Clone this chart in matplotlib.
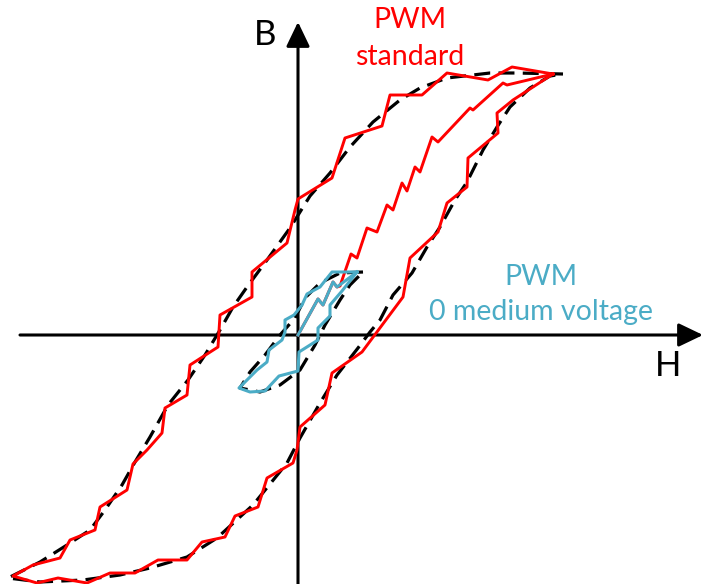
import matplotlib
matplotlib.use("Agg")
import matplotlib.pyplot as plt

# B-H plane, origin at the axis crossing (arbitrary units)
# smooth reference loop (black dashed), upper branch then lower branch
REF_H = [265, 219, 192, 149, 122, 102, 75, 52, 32, 12, -8, -31, -51, -65, -78, -93, -110, -130,
         -148, -163, -176, -193, -208, -231, -258, -290,
         -258, -215, -178, -148, -111, -81, -45, -11, 2, 22, 39, 60, 72, 82, 95, 114, 129, 142,
         157, 169, 185, 199, 212, 232, 252, 265]
REF_B = [261, 262, 262, 257, 247, 235, 213, 188, 162, 139, 107, 75, 48, 28, 5, -20, -45, -70,
         -102, -127, -150, -175, -195, -210, -227, -243,
         -247, -245, -240, -233, -222, -203, -170, -128, -103, -68, -40, -13, 3, 15, 40, 62, 88, 108,
         135, 153, 185, 208, 228, 247, 259, 261]

# PWM standard loop (red)
STD_H = [255, 214, 190, 149, 124, 92, 84, 47, 34, 0, -3, -11, -46, -46, -78, -80, -108, -111,
         -133, -136, -151, -165, -171, -198, -203, -228, -238, -265, -285,
         -261, -240, -211, -188, -163, -140, -111, -96, -73, -63, -40, -31, -5, -1, 2, 27, 34,
         64, 105, 112, 140, 149, 169, 170, 200, 199, 215, 235, 255]
STD_B = [261, 268, 255, 262, 240, 240, 209, 197, 157, 136, 125, 92, 63, 38, 20, -12, -30, -60,
         -73, -98, -115, -129, -155, -172, -195, -205, -223, -230, -241,
         -248, -243, -248, -238, -238, -225, -225, -207, -202, -181, -172, -143, -128, -115, -92, -70, -38,
         -17, 38, 77, 103, 132, 148, 177, 202, 222, 235, 248, 261]

# initial magnetisation, PWM standard (red)
INIT_H = [0, 20, 25, 35, 39, 42, 53, 59, 69, 79, 89, 95, 104, 109, 117, 122, 134, 140,
          172, 175, 205, 209, 255]
INIT_B = [0, 36, 30, 53, 48, 49, 81, 77, 107, 103, 130, 125, 152, 144, 168, 163, 198, 193,
          227, 225, 252, 250, 261]

# small reference loop (black dashed)
SREF_H = [65, 42, 22, 7, -3, -18, -33, -48, -58, -38, -18, 2, 17, 27, 42, 52, 65]
SREF_B = [63, 62, 52, 37, 17, 0, -20, -37, -53, -57, -50, -35, -10, 10, 35, 50, 63]

# PWM 0 medium voltage loop (blue)
MED_H = [59, 34, 22, 9, 4, -4, -13, -13, -16, -29, -31, -41, -59,
         -48, -33, -19, 0, 1, 20, 20, 32, 32, 44, 59]
MED_B = [63, 63, 48, 41, 30, 20, 15, 3, -5, -15, -27, -35, -53,
         -57, -56, -41, -36, -17, -5, 7, 19, 30, 44, 63]
MED_INIT_H = [0, 20, 25, 35, 39, 59]
MED_INIT_B = [0, 36, 30, 53, 48, 63]

RED = "#ff0000"
BLUE = "#4bacc6"

plt.rcParams["font.family"] = ["Lato", "DejaVu Sans"]

fig = plt.figure(figsize=(7.03, 5.84), dpi=100)
ax = fig.add_axes([0, 0, 1, 1])
ax.set_xlim(-298, 405)
ax.set_ylim(-249, 335)
ax.axis("off")

# axes with arrow heads
arrow = dict(arrowstyle="-|>,head_length=1.5,head_width=0.72", lw=2.2, color="black",
             shrinkA=0, shrinkB=0, mutation_scale=10)
ax.annotate("", xy=(405, 0), xytext=(-278, 0), arrowprops=arrow, zorder=1)
ax.annotate("", xy=(0, 313), xytext=(0, -252), arrowprops=arrow, zorder=1)
ax.text(-33, 300, "B", fontsize=25, ha="center", va="center")
ax.text(370, -31, "H", fontsize=25, ha="center", va="center")

ax.plot(REF_H, REF_B, color="black", lw=2.3, dashes=(5, 2.6), zorder=2)
ax.plot(SREF_H, SREF_B, color="black", lw=2.3, dashes=(5, 2.6), zorder=2)
ax.plot(STD_H, STD_B, color=RED, lw=2.1, zorder=3)
ax.plot(INIT_H, INIT_B, color=RED, lw=2.1, zorder=3)
ax.plot(MED_H, MED_B, color=BLUE, lw=2.2, zorder=4)
ax.plot(MED_INIT_H, MED_INIT_B, color=BLUE, lw=2.2, zorder=4)

ax.text(112, 307, "PWM", color=RED, fontsize=20.5, ha="center", va="baseline")
ax.text(112, 270, "standard", color=RED, fontsize=20.5, ha="center", va="baseline")
ax.text(243, 50, "PWM", color=BLUE, fontsize=20.5, ha="center", va="baseline")
ax.text(243, 15, "0 medium voltage", color=BLUE, fontsize=20.5, ha="center", va="baseline")

fig.savefig("out.png", dpi=100)
